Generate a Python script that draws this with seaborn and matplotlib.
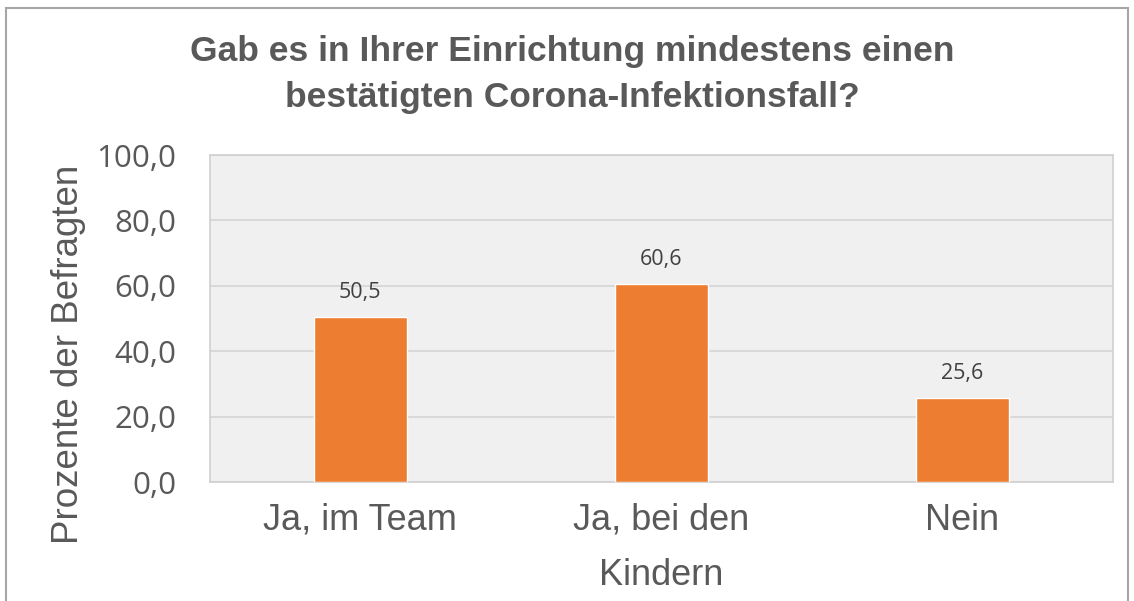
import matplotlib
matplotlib.use("Agg")
import matplotlib.pyplot as plt
import seaborn as sns
import pandas as pd
from matplotlib.patches import Rectangle

# Data
categories = ["Ja, im Team", "Ja, bei den\nKindern", "Nein"]
values = [50.5, 60.6, 25.6]
yticks = [0, 20, 40, 60, 80, 100]

df = pd.DataFrame({"Antwort": categories, "Prozent": values})

sns.set_theme(style="white")
plt.rcParams["font.family"] = ["Liberation Sans", "DejaVu Sans"]

text_gray = "#595959"

fig = plt.figure(figsize=(11.34, 6.01), dpi=100)
ax = fig.add_axes([0.185, 0.198, 0.7965, 0.544])

sns.barplot(data=df, x="Antwort", y="Prozent", color="#ed7d31",
            width=0.31, saturation=1, ax=ax, zorder=3)

ax.set_facecolor("#f0f0f0")
ax.set_ylim(0, 100)
ax.set_yticks(yticks)
ax.set_yticklabels([f"{v:.1f}".replace(".", ",") for v in yticks],
                   family=["Open Sans", "DejaVu Sans"], fontsize=22.5, color=text_gray)
ax.grid(axis="y", color="#d9d9d9", linewidth=1.5, zorder=0)
ax.set_axisbelow(True)
for s in ax.spines.values():
    s.set_visible(True)
    s.set_color("#d0d0d0")
    s.set_linewidth(1.2)

ax.tick_params(axis="both", length=0, colors=text_gray)
ax.tick_params(axis="y", pad=24)
ax.tick_params(axis="x", pad=15, labelsize=26)
for lbl in ax.get_xticklabels():
    lbl.set_linespacing(1.75)
    lbl.set_verticalalignment("top")
ax.set_xlabel("")
ax.set_ylabel("Prozente der Befragten", fontsize=26.5, color=text_gray)
ax.yaxis.set_label_coords(-0.137, 0.39)

for i, v in enumerate(values):
    ax.text(i, v + 7.5, f"{v:.1f}".replace(".", ","), ha="center", va="center",
            fontsize=15.5, color="#404040", family=["Open Sans", "DejaVu Sans"])

fig.text(0.505, 1 - 75 / 601,
         "Gab es in Ihrer Einrichtung mindestens einen\nbestätigten Corona-Infektionsfall?",
         ha="center", va="center", fontsize=25.5, fontweight="bold", color=text_gray,
         linespacing=1.5)

# outer chart frame
fig.patches.append(Rectangle((6 / 1134, -0.05), 1122 / 1134, 1.05 - 8 / 601,
                             transform=fig.transFigure, fill=False,
                             edgecolor="#a6a6a6", linewidth=1.5))

fig.savefig("out.png", dpi=100)
